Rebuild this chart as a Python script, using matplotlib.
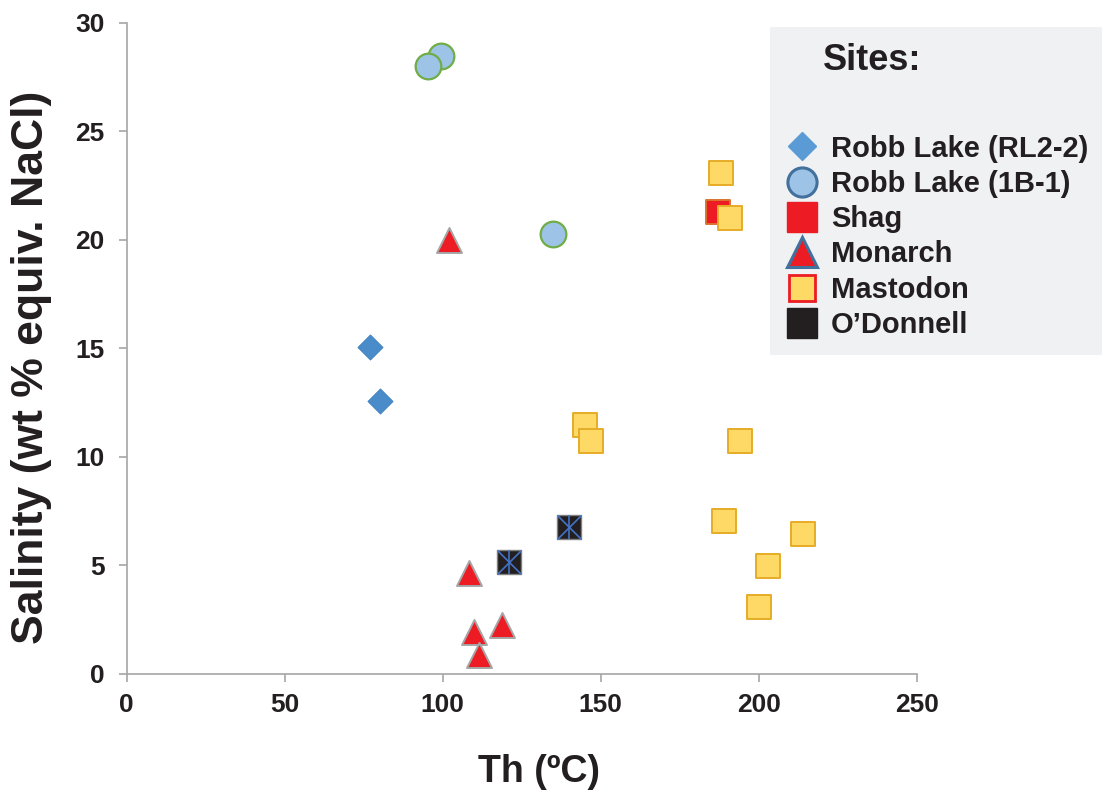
import matplotlib.pyplot as plt
from matplotlib.lines import Line2D
from matplotlib.patches import Rectangle

plt.rcParams['font.family'] = ['Liberation Sans', 'DejaVu Sans']
plt.rcParams['font.weight'] = 'bold'

# Homogenization temperature (Th, degC) and salinity (wt % NaCl eq.) by site
rl22_th = [77.0, 80.2]
rl22_sal = [15.07, 12.6]

b11_th = [99.4, 95.4, 135.0]
b11_sal = [28.5, 28.0, 20.26]

shag_th = [187.1]
shag_sal = [21.3]

monarch_th = [102.0, 108.3, 110.0, 111.5, 118.8]
monarch_sal = [20.0, 4.65, 1.94, 0.88, 2.26]

mastodon_th = [188.1, 190.9, 145.0, 146.9, 194.2, 189.0, 213.9, 203.0, 200.0]
mastodon_sal = [23.1, 21.0, 11.47, 10.74, 10.75, 7.05, 6.47, 4.99, 3.1]

odonnell_th = [120.9, 139.9]
odonnell_sal = [5.16, 6.77]

site_names = ['Robb Lake (RL2-2)', 'Robb Lake (1B-1)', 'Shag', 'Monarch',
              'Mastodon', "O\u2019Donnell"]

fig = plt.figure(figsize=(11.02, 7.92), dpi=100)
ax = fig.add_axes([0.115, 0.149, 0.7169, 0.822])

ax.scatter(rl22_th, rl22_sal, marker='D', s=12.8**2, color='#4a8bca',
           edgecolors='#3f7fbf', linewidths=0.6, clip_on=False, zorder=3)
ax.scatter(b11_th, b11_sal, marker='o', s=18.5**2, color='#9dc3e6',
           edgecolors='#70ad47', linewidths=1.6, clip_on=False, zorder=3)
ax.scatter(shag_th, shag_sal, marker='s', s=17.5**2, color='#ed1c24',
           edgecolors='#d9742d', linewidths=1.4, clip_on=False, zorder=3)
ax.scatter(monarch_th, monarch_sal, marker='^', s=18**2, color='#ed1c24',
           edgecolors='#a6a6a6', linewidths=1.4, clip_on=False, zorder=3)
ax.scatter(mastodon_th, mastodon_sal, marker='s', s=17.5**2, color='#ffd966',
           edgecolors='#e6ac27', linewidths=1.4, clip_on=False, zorder=3)
ax.scatter(odonnell_th, odonnell_sal, marker='s', s=17.5**2, color='#231f20',
           edgecolors='#808080', linewidths=1.0, clip_on=False, zorder=3)
ax.scatter(odonnell_th, odonnell_sal, marker='x', s=17**2, color='#4472c4',
           linewidths=1.2, clip_on=False, zorder=4)
ax.scatter(odonnell_th, odonnell_sal, marker='|', s=17**2, color='#4472c4',
           linewidths=1.2, clip_on=False, zorder=4)

ax.set_xlim(0, 250)
ax.set_ylim(0, 30)
ax.set_xticks(range(0, 251, 50))
ax.set_yticks(range(0, 31, 5))

for side in ['top', 'right']:
    ax.spines[side].set_visible(False)
for side in ['left', 'bottom']:
    ax.spines[side].set_color('#a6a6a6')
    ax.spines[side].set_linewidth(1.2)

ax.tick_params(axis='both', direction='out', length=6, width=1.2,
               color='#a6a6a6', labelsize=19, labelcolor='#231f20')
ax.tick_params(axis='x', pad=8)
ax.tick_params(axis='y', pad=10)

fig.text(0.489, 0.012, 'Th (\u00baC)', ha='center', va='baseline',
         fontsize=27, fontweight='bold', color='#231f20')
fig.text(0.029, 0.536, 'Salinity (wt % equiv. NaCl)', ha='center', va='center',
         rotation=90, fontsize=32, fontweight='bold', color='#231f20')

# Legend panel
fig.add_artist(Rectangle((770 / 1102, 1 - 355 / 792), 332 / 1102, 328 / 792,
                         transform=fig.transFigure, facecolor='#f0f1f3',
                         edgecolor='none', zorder=5))
fig.text(823 / 1102, 1 - 60 / 792, 'Sites:', ha='left', va='center',
         fontsize=26, fontweight='bold', color='#231f20', zorder=6)

handles = [
    Line2D([], [], ls='', marker='D', ms=14, color='#5b9bd5', mec='#5b9bd5'),
    Line2D([], [], ls='', marker='o', ms=21, color='#9dc3e6', mec='#41719c', mew=2.2),
    Line2D([], [], ls='', marker='s', ms=21, color='#ed1c24', mec='#ed1c24'),
    Line2D([], [], ls='', marker='^', ms=21, color='#ed1c24', mec='#41719c', mew=2.2),
    Line2D([], [], ls='', marker='s', ms=19, color='#ffd966', mec='#ed1c24', mew=2),
    Line2D([], [], ls='', marker='s', ms=21, color='#231f20', mec='#231f20'),
]
leg = fig.legend(handles, site_names, loc='upper left',
                 bbox_to_anchor=(770 / 1102, 1 - 120 / 792),
                 frameon=False, fontsize=21, labelspacing=0.25,
                 handlelength=1.2, handletextpad=0.4, borderpad=0,
                 labelcolor='#231f20')
leg.set_zorder(6)

fig.savefig('out.png', dpi=100)
